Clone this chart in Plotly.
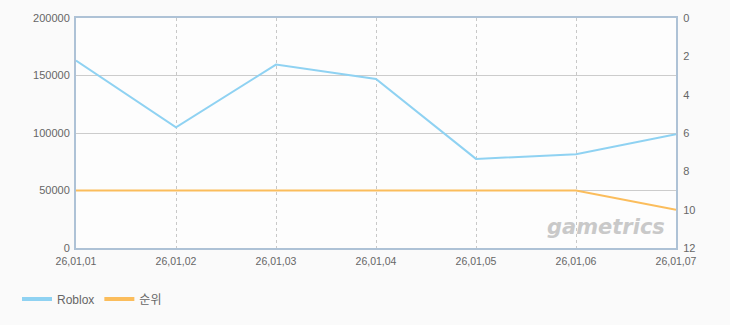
import plotly.graph_objects as go

dates = ["26,01,01", "26,01,02", "26,01,03", "26,01,04", "26,01,05", "26,01,06", "26,01,07"]
roblox = [163000, 105000, 159500, 147000, 77500, 81500, 99000]
rank = [9, 9, 9, 9, 9, 9, 10]

names = ["Roblox", "순위"]
colors = ["#8fd2f2", "#fbbd5c"]

font = dict(family="Liberation Sans, Noto Sans CJK KR", size=11, color="#666666")
xfont = dict(family="Liberation Sans, Noto Sans CJK KR", size=10.5, color="#666666")

fig = go.Figure()
fig.add_trace(go.Scatter(x=dates, y=roblox, name=names[0], mode="lines", showlegend=False,
                         line=dict(color=colors[0], width=2)))
fig.add_trace(go.Scatter(x=dates, y=rank, name=names[1], mode="lines", yaxis="y2",
                         showlegend=False, line=dict(color=colors[1], width=2)))
# legend entries with thicker swatches
for n, c in zip(names, colors):
    fig.add_trace(go.Scatter(x=[None], y=[None], name=n, mode="lines",
                             line=dict(color=c, width=4), showlegend=True))

fig.update_layout(
    width=730, height=325,
    margin=dict(l=76, r=54, t=16, b=77),
    paper_bgcolor="#fafafa", plot_bgcolor="#fdfdfd",
    font=font,
    showlegend=True,
    legend=dict(orientation="h", x=17/730, xref="container", xanchor="left",
                y=26/325, yref="container", yanchor="middle",
                bgcolor="rgba(0,0,0,0)", font=dict(family="Liberation Sans, Noto Sans CJK KR",
                                                   size=12, color="#666666"),
                itemwidth=30, tracegroupgap=0),
    xaxis=dict(type="category", range=[0, 6], showgrid=True, gridcolor="#c8c8c8",
               griddash="3px,3px", gridwidth=1, showline=True, linecolor="#aec2d6",
               linewidth=2, mirror=True, ticks="", tickfont=xfont, zeroline=False,
               ticklabelstandoff=2),
    yaxis=dict(range=[0, 200000], dtick=50000, showgrid=True, gridcolor="#cccccc",
               gridwidth=1, showline=True, linecolor="#aec2d6", linewidth=2,
               ticks="", tickfont=font, zeroline=False, tickformat="d",
               ticklabelstandoff=2),
    yaxis2=dict(range=[12, 0], dtick=2, overlaying="y", side="right", showgrid=False,
                showline=True, linecolor="#aec2d6", linewidth=2, ticks="",
                tickfont=dict(family="Liberation Sans", size=11, color="#666666"),
                zeroline=False, ticklabelstandoff=3),
    annotations=[dict(text="<b><i>gametrics</i></b>", xref="paper", yref="paper",
                      x=0.985, y=0.03, xanchor="right", yanchor="bottom", showarrow=False,
                      font=dict(family="DejaVu Sans", size=21, color="#c9c9c9"))],
)

fig.write_html("out.html")
